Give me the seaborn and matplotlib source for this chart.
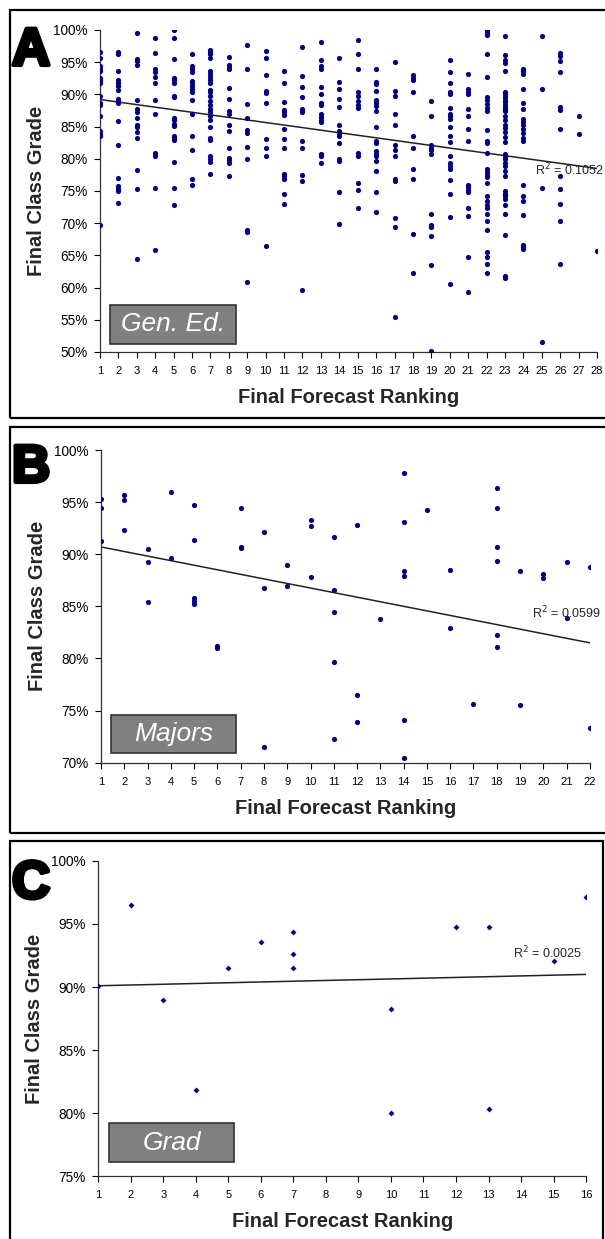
import numpy as np
import pandas as pd
import seaborn as sns
import matplotlib.pyplot as plt
from matplotlib.patches import Rectangle
import matplotlib.patheffects as pe

# Gen. Ed. grades, one list per forecast ranking 1..28
gened_grades = [
    [96.6, 95.7, 94.4, 94.0, 93.6, 92.6, 92.2, 91.8, 89.8, 88.7, 88.3, 86.7, 84.3, 83.9, 83.5, 69.7],
    [96.6, 96.3, 93.6, 92.3, 91.8, 91.3, 90.7, 89.3, 88.9, 88.7, 85.9, 82.1, 77.0, 75.8, 75.3, 75.0, 73.1],
    [99.5, 95.5, 95.2, 94.5, 89.2, 87.7, 87.3, 86.4, 85.3, 85.0, 84.1, 83.3, 78.2, 75.3, 64.5],
    [98.7, 96.5, 93.9, 93.4, 92.7, 91.8, 89.1, 87.0, 80.9, 80.4, 75.5, 65.8],
    [100.0, 98.7, 95.5, 92.6, 92.2, 91.7, 89.8, 89.6, 86.4, 86.0, 85.4, 85.1, 83.6, 83.3, 82.9, 79.5, 75.5, 72.9],
    [96.3, 94.4, 94.0, 93.4, 92.1, 91.7, 91.3, 90.8, 90.4, 89.1, 87.0, 83.6, 81.3, 76.8, 75.9],
    [96.9, 96.6, 96.2, 95.7, 93.6, 93.2, 92.7, 92.3, 91.8, 90.7, 90.3, 89.8, 89.0, 88.4, 87.7, 87.2,
     86.6, 86.0, 85.0, 83.3, 82.9, 80.4, 80.0, 79.5, 77.7],
    [95.8, 94.5, 94.1, 93.9, 91.0, 89.3, 87.4, 87.0, 85.3, 84.3, 81.6, 80.2, 79.8, 79.4, 77.3],
    [97.6, 93.9, 88.5, 86.3, 84.5, 84.0, 81.9, 80.0, 68.9, 68.7, 60.9],
    [96.7, 95.7, 93.0, 90.5, 90.2, 88.7, 83.0, 81.6, 80.5, 66.5],
    [93.7, 91.8, 88.8, 87.6, 87.2, 86.8, 84.7, 83.0, 81.6, 77.7, 77.3, 76.9, 74.6, 73.0],
    [97.4, 92.8, 91.1, 89.6, 87.8, 87.4, 87.2, 82.7, 81.7, 77.5, 76.6, 59.7],
    [98.2, 95.3, 94.4, 94.0, 91.1, 90.0, 88.7, 88.3, 86.9, 86.5, 86.1, 85.7, 80.8, 80.4, 79.4],
    [95.7, 91.9, 90.9, 89.3, 88.1, 85.3, 84.3, 83.9, 83.6, 82.4, 80.0, 79.6, 74.8, 69.9],
    [98.4, 96.3, 94.0, 90.3, 89.8, 89.0, 88.4, 87.9, 80.9, 80.5, 76.2, 75.2, 72.4],
    [94.0, 91.9, 91.6, 90.5, 89.2, 88.7, 88.2, 87.4, 84.9, 82.7, 82.4, 81.2, 80.8, 80.4, 79.6, 78.1,
     74.9, 71.8],
    [95.1, 90.6, 89.7, 86.9, 85.2, 82.1, 81.3, 80.4, 76.9, 76.5, 70.8, 69.4, 55.5],
    [93.0, 92.6, 92.2, 90.3, 83.6, 81.6, 78.4, 76.8, 68.3, 62.3],
    [89.0, 86.6, 82.1, 81.7, 81.3, 80.7, 71.5, 69.7, 69.4, 68.0, 63.5, 50.1],
    [95.4, 93.4, 91.7, 90.4, 90.0, 87.9, 87.0, 86.6, 86.2, 85.0, 83.5, 82.6, 80.5, 79.3, 78.9, 78.4,
     76.7, 74.6, 70.9, 60.6],
    [93.1, 90.8, 90.4, 90.0, 87.7, 86.6, 84.7, 82.7, 76.0, 75.6, 75.2, 74.8, 72.4, 71.1, 64.7, 59.3],
    [100.0, 99.5, 99.2, 96.2, 92.7, 89.6, 89.1, 88.5, 87.9, 87.4, 84.5, 82.8, 82.4, 80.9, 78.4, 78.0,
     77.5, 77.1, 76.3, 74.2, 73.4, 72.9, 72.3, 71.5, 70.3, 68.9, 65.6, 64.7, 63.6, 62.3],
    [99.0, 96.1, 95.3, 94.8, 93.7, 90.4, 90.0, 89.6, 89.2, 88.8, 88.4, 88.1, 87.7, 87.4, 86.6, 86.1,
     85.3, 84.8, 84.1, 83.4, 82.6, 80.7, 80.3, 79.9, 79.3, 78.9, 78.1, 77.4, 75.0, 74.6, 74.2, 73.7,
     72.9, 71.5, 68.1, 61.8, 61.5],
    [94.0, 93.6, 93.1, 90.9, 88.7, 87.7, 86.2, 85.7, 85.2, 84.7, 84.0, 83.3, 82.7, 75.9, 74.2, 73.4,
     71.3, 66.6, 66.3, 66.0],
    [99.0, 90.9, 75.5, 51.6],
    [96.5, 95.9, 95.2, 93.4, 88.1, 87.6, 84.7, 77.3, 75.3, 73.0, 70.3, 63.6],
    [86.6, 83.8],
    [65.7],
]

# Majors grades, one list per ranking 1..22
majors_grades = [
    [95.3, 94.4, 91.3],
    [95.7, 95.2, 92.3],
    [90.5, 89.3, 85.4],
    [96.0, 89.6],
    [94.7, 91.4, 85.8, 85.5, 85.2],
    [81.2, 81.0],
    [94.4, 90.7, 90.6],
    [92.1, 86.8, 71.5],
    [89.0, 87.0],
    [93.3, 92.7, 87.8],
    [91.7, 86.6, 84.5, 79.7, 72.3],
    [92.8, 76.5, 73.9],
    [83.8],
    [97.8, 93.1, 88.4, 87.9, 74.1, 70.5],
    [94.2],
    [88.5, 82.9],
    [75.6],
    [96.4, 94.4, 90.7, 89.4, 82.3, 81.1],
    [88.4, 75.5],
    [88.1, 87.7],
    [89.3, 83.9],
    [88.8, 73.3],
]

# Grad students
grad_rank = [1, 2, 3, 4, 5, 6, 7, 7, 7, 10, 10, 12, 13, 13, 15, 16]
grad_grade = [90.05, 96.5, 89.0, 81.8, 91.5, 93.6, 94.35, 92.65, 91.5, 88.25, 80.0, 94.8, 94.8, 80.35,
              92.05, 97.15]

# linear trendlines as drawn in the original (grade at first and last ranking)
trend_gened = [89.2, 78.5]
trend_majors = [90.7, 81.5]
trend_grad = [90.1, 91.0]

panel_letters = ["A", "B", "C"]
panel_names = ["Gen. Ed.", "Majors", "Grad"]
r2_labels = ["0.1052", "0.0599", "0.0025"]
y_ranges = [(50, 100), (70, 100), (75, 100)]
x_max = [28, 22, 16]


def to_frame(groups):
    rows = []
    for i, grades in enumerate(groups):
        for g in grades:
            rows.append((i + 1, g))
    return pd.DataFrame(rows, columns=["rank", "grade"])


frames = [to_frame(gened_grades), to_frame(majors_grades),
          pd.DataFrame({"rank": grad_rank, "grade": grad_grade})]
trends = [trend_gened, trend_majors, trend_grad]

sns.set_style("white")
plt.rcParams["font.family"] = ["Liberation Sans", "DejaVu Sans"]

fig = plt.figure(figsize=(6.05, 12.39), dpi=100)

# axes rectangles (figure fraction) and panel frames (pixels)
axes_pos = [
    [0.1653, 0.7159, 0.8215, 0.2599],
    [0.1670, 0.3844, 0.8080, 0.2524],
    [0.1628, 0.0508, 0.8058, 0.2543],
]
frames_px = [(10, 10, 640, 418), (10, 427, 640, 833), (10, 841, 603, 1250)]
label_boxes = [(0.02, 0.025, 0.254, 0.121), (0.02, 0.031, 0.256, 0.122), (0.022, 0.044, 0.256, 0.124)]
r2_pos = [(0.875, 0.565), (0.881, 0.479), (0.85, 0.708)]
letter_px = [(12, 65), (12, 482), (12, 898)]

W, H = 605, 1239
for x0, y0, x1, y1 in frames_px:
    fig.patches.append(Rectangle((x0 / W, 1 - y1 / H), (x1 - x0) / W, (y1 - y0) / H,
                                 transform=fig.transFigure, fill=False,
                                 edgecolor="black", linewidth=1.6))

for i in range(3):
    ax = fig.add_axes(axes_pos[i])
    df = frames[i]
    marker = "D" if i == 2 else "o"
    size = 9 if i == 2 else 14
    sns.scatterplot(data=df, x="rank", y="grade", ax=ax, marker=marker, s=size,
                    color="#000080", linewidth=0, alpha=1, zorder=3)
    sns.lineplot(x=[1, x_max[i]], y=trends[i], ax=ax, color="#222222", linewidth=1.1, zorder=2)

    lo, hi = y_ranges[i]
    ax.set_xlim(1, x_max[i])
    ax.set_ylim(lo, hi)
    ax.set_xticks(range(1, x_max[i] + 1))
    yt = list(range(lo, hi + 1, 5))
    ax.set_yticks(yt)
    ax.set_yticklabels([f"{v}%" for v in yt])
    ax.tick_params(axis="both", direction="out", length=4, width=0.8,
                   colors="black", left=True, bottom=True)
    ax.tick_params(axis="x", labelsize=8, pad=6)
    ax.tick_params(axis="y", labelsize=9.8, pad=5)
    for side in ["top", "right"]:
        ax.spines[side].set_visible(False)
    for side in ["left", "bottom"]:
        ax.spines[side].set_color("#333333")
        ax.spines[side].set_linewidth(0.9)
    ax.set_facecolor("none")
    ax.set_xlabel("Final Forecast Ranking", fontsize=14.5, fontweight="bold", labelpad=9)
    ax.set_ylabel("Final Class Grade", fontsize=14.5, fontweight="bold", labelpad=5)

    bx, by, bw, bh = label_boxes[i]
    ax.add_patch(Rectangle((bx, by), bw, bh, transform=ax.transAxes,
                           facecolor="#808080", edgecolor="#333333", linewidth=1.2, zorder=5))
    ax.text(bx + bw / 2, by + bh / 2, panel_names[i], transform=ax.transAxes,
            ha="center", va="center", color="white", style="italic", fontsize=19, zorder=6)

    rx, ry = r2_pos[i]
    ax.text(rx, ry, r"R$^2$ = " + r2_labels[i], transform=ax.transAxes,
            fontsize=9, ha="left", va="center", clip_on=False)

    lx, ly = letter_px[i]
    fig.text(lx / W, 1 - ly / H, panel_letters[i], fontsize=38, fontweight="bold",
             ha="left", va="baseline", color="black",
             path_effects=[pe.withStroke(linewidth=3, foreground="black")])

fig.savefig("out.png", dpi=100)
